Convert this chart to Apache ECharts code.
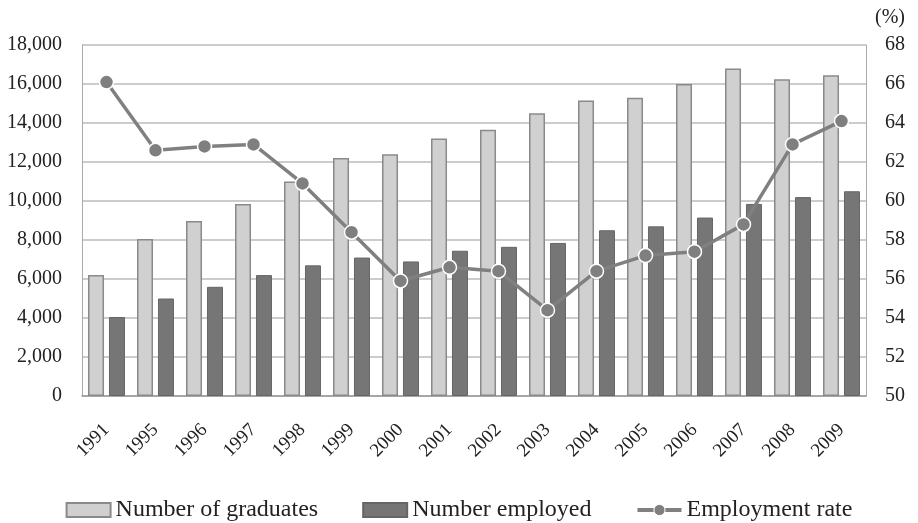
<!DOCTYPE html>
<html><head><meta charset="utf-8">
<script src="https://cdn.jsdelivr.net/npm/echarts@6/dist/echarts.min.js"></script>
<style>html,body{margin:0;padding:0;background:#fff}#c{width:918px;height:523px}</style>
</head><body><div id="c"></div>
<script>
const years = ['1991','1995','1996','1997','1998','1999','2000','2001','2002','2003','2004','2005','2006','2007','2008','2009'];
const graduates = [6200,8050,8980,9850,11000,12200,12400,13200,13650,14500,15150,15300,16000,16800,16250,16450];
const employed = [4050,5000,5600,6200,6700,7100,6900,7450,7650,7850,8500,8700,9150,9850,10200,10500];
const rate = [66.1,62.6,62.8,62.9,60.9,58.4,55.9,56.6,56.4,54.4,56.4,57.2,57.4,58.8,62.9,64.1];

const font = 'Liberation Serif';
const chart = echarts.init(document.getElementById('c'));
chart.setOption({
  animation: false,
  textStyle: {fontFamily: font, color: '#222'},
  grid: {left: 82, right: 52, top: 45, bottom: 127, containLabel: false},
  legend: {
    top: 493, left: 'center', itemGap: 44, itemWidth: 44, itemHeight: 14,
    textStyle: {fontFamily: font, fontSize: 24, color: '#222'},
    data: [
      {name: 'Number of graduates', icon: 'rect'},
      {name: 'Number employed', icon: 'rect'},
      {name: 'Employment rate', lineStyle: {width: 4, color: '#808080'}, itemStyle: {color: '#7f7f7f', borderColor: '#fff', borderWidth: 1}}
    ]
  },
  xAxis: {
    type: 'category', data: years,
    axisLine: {lineStyle: {color: '#999', width: 1.5}},
    axisTick: {show: false},
    axisLabel: {rotate: 45, fontFamily: font, fontSize: 19, color: '#222', margin: 31}
  },
  yAxis: [
    {type: 'value', min: 0, max: 18000, interval: 2000,
     axisLine: {show: true, lineStyle: {color: '#aaa'}},
     axisTick: {show: false},
     splitLine: {lineStyle: {color: '#bbb', width: 1.5}},
     axisLabel: {fontFamily: font, fontSize: 20, color: '#222', margin: 20,
       formatter: v => v.toLocaleString('en-US')}},
    {type: 'value', min: 50, max: 68, interval: 2,
     name: '(%)', nameLocation: 'end', nameGap: 17,
     nameTextStyle: {fontFamily: font, fontSize: 20, color: '#222', align: 'left', padding: [0,0,0,9]},
     axisLine: {show: true, lineStyle: {color: '#aaa'}},
     axisTick: {show: false},
     splitLine: {show: false},
     axisLabel: {fontFamily: font, fontSize: 20, color: '#222', margin: 19}}
  ],
  series: [
    {name: 'Number of graduates', type: 'bar', data: graduates, barWidth: 16, barGap: '31%',
     itemStyle: {color: '#d0d0d0', borderColor: '#8a8a8a', borderWidth: 1.5}},
    {name: 'Number employed', type: 'bar', data: employed, barWidth: 16,
     itemStyle: {color: '#767676', borderColor: '#666', borderWidth: 1}},
    {name: 'Employment rate', type: 'line', yAxisIndex: 1, data: rate,
     symbol: 'circle', symbolSize: 14,
     lineStyle: {color: '#808080', width: 3.5},
     itemStyle: {color: '#7f7f7f', borderColor: '#fff', borderWidth: 1.5}}
  ]
});
</script></body></html>
